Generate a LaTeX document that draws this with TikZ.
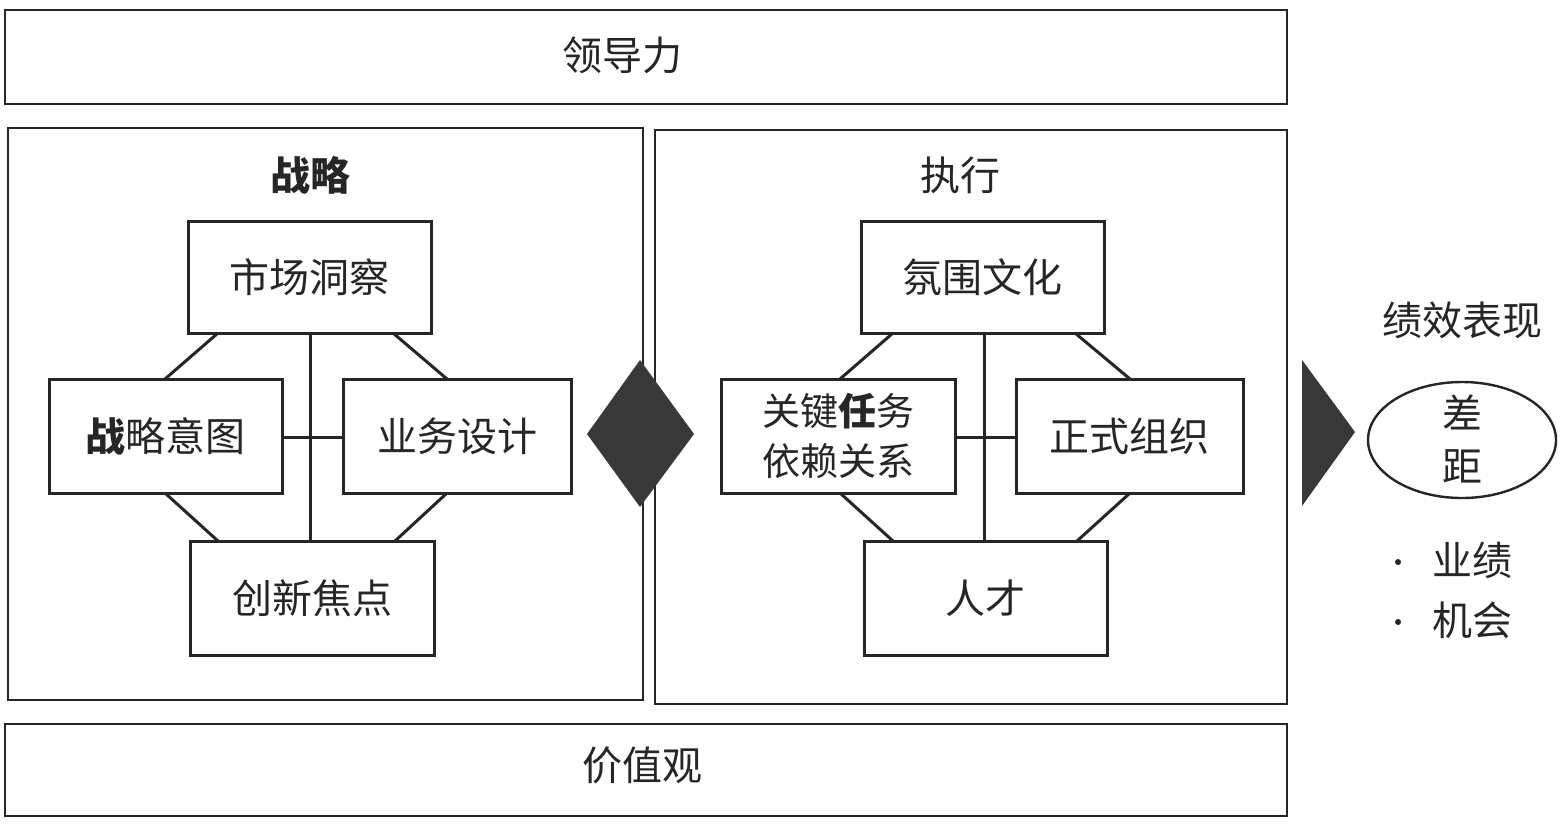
\documentclass[tikz,border=0pt]{standalone}
\usepackage{fontspec}
\setmainfont{Noto Sans CJK SC}
\begin{document}
\begin{tikzpicture}[x=0.5pt,y=-0.5pt,
  bx/.style={draw=black!85,line width=1.5pt,inner sep=0pt},
  ln/.style={draw=black!85,line width=1.5pt},
  lbl/.style={font=\fontsize{20}{24}\selectfont,text=black!85},
  sm/.style={font=\fontsize{19}{25}\selectfont,text=black!85,align=center}]
\useasboundingbox (0,0) rectangle (1566,826);
\path[fill=white] (0,0) rectangle (1566,826);
% frames
\draw[ln,line width=1.2pt] (5,10) rectangle (1287,104);
\node[lbl] (lead) at (622,55) {领导力};
\draw[ln,line width=1.2pt] (8,128) rectangle (643,700);
\node[lbl,font=\fontsize{20}{24}\selectfont\bfseries] (zl) at (310,175) {战略};
\draw[ln,line width=1.2pt] (655,130) rectangle (1287,704);
\node[lbl] (zx) at (960,175) {执行};
\draw[ln,line width=1.2pt] (5,724) rectangle (1287,816);
\node[lbl] (jz) at (642,765) {价值观};
% left
\node[bx,minimum width=121.5pt,minimum height=56pt,lbl] (sc) at (309.5,277) {市场洞察};
\node[bx,minimum width=116.5pt,minimum height=57pt,lbl] (zy) at (165.5,436) {\textbf{战}略意图};
\node[bx,minimum width=114pt,minimum height=57pt,lbl] (yw) at (457,436) {业务设计};
\node[bx,minimum width=122pt,minimum height=57pt,lbl] (cx) at (312,598) {创新焦点};
\draw[ln] (310,333) -- (310,541);
\draw[ln] (282,437) -- (343,437);
\draw[ln] (218,333) -- (165,379);
\draw[ln] (393,333) -- (447,379);
\draw[ln] (165,493) -- (218,541);
\draw[ln] (447,493) -- (395,541);
% diamond
\fill[black!78] (587,434) -- (640,360) -- (694,434) -- (640,507) -- cycle;
% right
\node[bx,minimum width=121.5pt,minimum height=56pt,lbl] (fw) at (982.5,277) {氛围文化};
\node[bx,minimum width=117pt,minimum height=57pt,sm] (gj) at (838,436) {关键\textbf{任}务\\依赖关系};
\node[bx,minimum width=113.5pt,minimum height=57pt,lbl] (zs) at (1129.5,436) {正式组织};
\node[bx,minimum width=121.5pt,minimum height=57pt,lbl] (rc) at (985.5,598) {人才};
\draw[ln] (984,333) -- (984,541);
\draw[ln] (955,437) -- (1016,437);
\draw[ln] (893,333) -- (840,379);
\draw[ln] (1075,333) -- (1130,379);
\draw[ln] (840,493) -- (893,541);
\draw[ln] (1130,493) -- (1077,541);
% triangle
\fill[black!78] (1302,360) -- (1355,432) -- (1302,506) -- cycle;
\node[lbl] (jx) at (1462,320) {绩效表现};
\draw[line width=1.2pt,black!85] (1462,440) ellipse [x radius=94,y radius=58];
\node[lbl] (cha) at (1462,412) {差};
\node[lbl] (ju) at (1462,466) {距};
\node[lbl] (b1) at (1472,560) {业绩};
\node[lbl] (b2) at (1472,620) {机会};
\fill[black!85] (1398,562) circle (3);
\fill[black!85] (1398,622) circle (3);
\end{tikzpicture}
\end{document}
